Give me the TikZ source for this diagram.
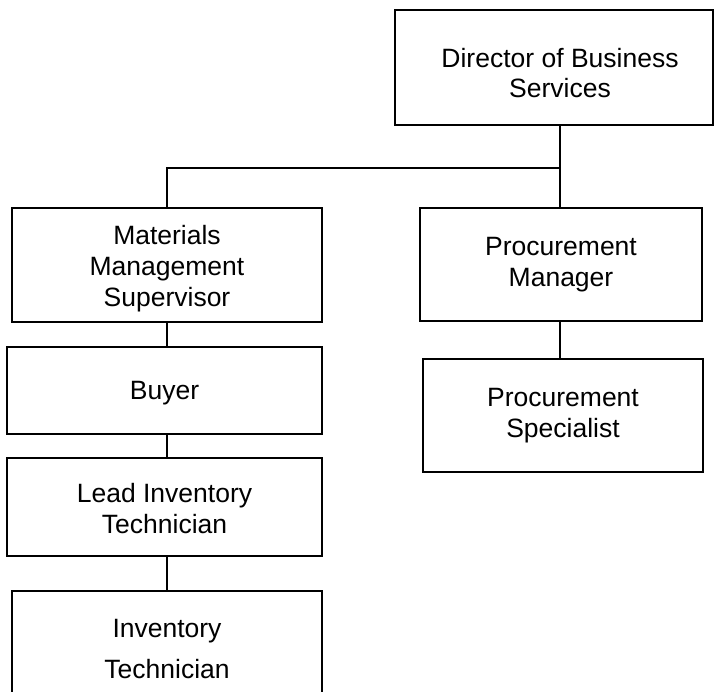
\documentclass[tikz,border=0pt]{standalone}
\usepackage{fontspec}
\setmainfont{Liberation Sans}
\begin{document}
\begin{tikzpicture}[x=1pt,y=-1pt,
  box/.style={draw=black,line width=1.6pt,rectangle,inner sep=0pt},
  txt/.style={align=center,inner sep=0pt,font=\fontsize{26.5}{31}\selectfont},
  conn/.style={draw=black,line width=1.6pt}]
\useasboundingbox (0,0) rectangle (714,692);
\node[box,minimum width=318,minimum height=115] (dir) at (554,67.5) {};
\node[txt,font=\fontsize{26.5}{30}\selectfont] (dirtext) at (560,73) {Director of Business\\Services};
\node[box,minimum width=310,minimum height=114] (mms) at (167,265) {};
\node[txt] (mmstext) at (167,269) {Materials\\Management\\Supervisor};
\node[box,minimum width=315,minimum height=87] (buyer) at (164.5,390.5) {};
\node[txt] (buyertext) at (164.5,393) {Buyer};
\node[box,minimum width=315,minimum height=98] (lead) at (164.5,507) {};
\node[txt] (leadtext) at (164.5,509) {Lead Inventory\\Technician};
\node[box,minimum width=310,minimum height=116] (inv) at (167,649) {};
\node[txt,font=\fontsize{26.5}{41}\selectfont] (invtext) at (167,649.5) {Inventory\\Technician};
\node[box,minimum width=282,minimum height=113] (pm) at (561,264.5) {};
\node[txt] (pmtext) at (561,264.5) {Procurement\\Manager};
\node[box,minimum width=280,minimum height=113] (ps) at (563,415.5) {};
\node[txt] (pstext) at (563,415.5) {Procurement\\Specialist};
\coordinate (j) at (560,168);
\draw[conn] (dir.south -| j) -- (j) -- (pm.north -| j);
\draw[conn] (j) -| (mms.north -| 167,0);
\draw[conn] (mms.south -| 167,0) -- (buyer.north -| 167,0);
\draw[conn] (buyer.south -| 167,0) -- (lead.north -| 167,0);
\draw[conn] (lead.south -| 167,0) -- (inv.north -| 167,0);
\draw[conn] (pm.south -| 560,0) -- (ps.north -| 560,0);
\end{tikzpicture}
\end{document}
